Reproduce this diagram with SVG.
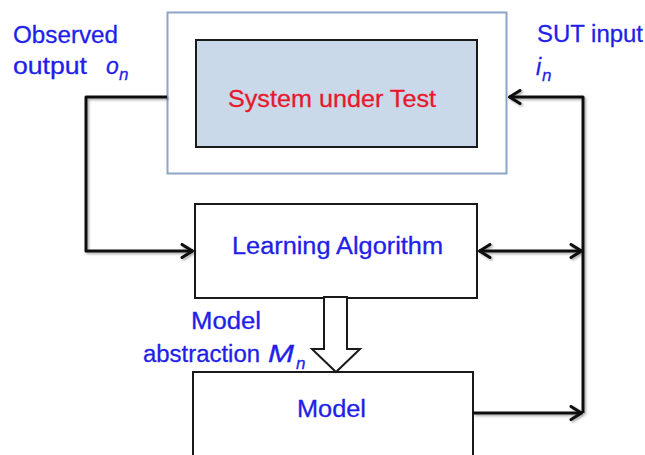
<svg xmlns="http://www.w3.org/2000/svg" width="645" height="455" viewBox="0 0 645 455">
  <style>
    .lbl { font-family: "Liberation Sans", Arial, sans-serif; fill: #1f1fe8; stroke: #1f1fe8; stroke-width: 0.3; font-size: 23px; }
    .it { font-style: italic; }
    .sub { font-size: 17px; }
    .box { fill: #ffffff; stroke: #1a1a1a; stroke-width: 2; }
    .wire { fill: none; stroke: #111111; stroke-width: 3; stroke-linejoin: round; }
  </style>
  <defs>
    <marker id="chev" viewBox="0 0 14 16" refX="13" refY="8" markerWidth="14" markerHeight="16" markerUnits="userSpaceOnUse" orient="auto-start-reverse">
      <path d="M2,1.5 L12.5,8 L2,14.5" fill="none" stroke="#111111" stroke-width="3" stroke-linecap="round" stroke-linejoin="round"/>
    </marker>
    <filter id="shadow" x="-10%" y="-10%" width="130%" height="130%">
      <feDropShadow dx="1.5" dy="1.5" stdDeviation="1.2" flood-color="#000000" flood-opacity="0.35"/>
    </filter>
  </defs>

  <rect width="645" height="455" fill="#ffffff"/>

  <!-- System under test -->
  <g id="sut">
    <rect x="167.5" y="12.5" width="339" height="161" fill="#ffffff" stroke="#8ea6c6" stroke-width="2"/>
    <rect x="196" y="40" width="281" height="107" fill="#c9d9ea" stroke="#1a1a1a" stroke-width="2"/>
    <text x="228" y="107" textLength="208" lengthAdjust="spacingAndGlyphs" font-family="'Liberation Sans', Arial, sans-serif" font-size="24" fill="#e8182c" stroke="#e8182c" stroke-width="0.3">System under Test</text>
  </g>

  <!-- Learning algorithm -->
  <g id="learner">
    <rect class="box" x="195" y="204" width="282" height="94"/>
    <text class="lbl" x="232" y="254" font-size="24" textLength="211" lengthAdjust="spacingAndGlyphs">Learning Algorithm</text>
  </g>

  <!-- Model -->
  <g id="model">
    <rect class="box" x="193" y="372" width="280" height="100"/>
    <text class="lbl" x="297" y="417" font-size="24" textLength="69" lengthAdjust="spacingAndGlyphs">Model</text>
  </g>

  <!-- Hollow abstraction arrow -->
  <g id="abstraction-arrow">
    <path d="M324,297 L347,297 L347,349 L360,349 L336,372 L312,349 L324,349 Z" fill="#ffffff" stroke="#1a1a1a" stroke-width="2" stroke-linejoin="miter"/>
  </g>

  <!-- Connectors -->
  <g id="connectors" filter="url(#shadow)">
    <path class="wire" d="M167,97 L86,97 L86,251 L193,251" marker-end="url(#chev)"/>
    <path class="wire" d="M583,413 L583,97 L509,97" marker-end="url(#chev)"/>
    <path class="wire" d="M479,251 L582,251" marker-start="url(#chev)" marker-end="url(#chev)"/>
    <path class="wire" d="M473,413 L582,413" marker-end="url(#chev)"/>
  </g>

  <!-- Labels -->
  <g id="labels">
    <text class="lbl" x="13" y="43" textLength="105" lengthAdjust="spacingAndGlyphs">Observed</text>
    <text class="lbl" x="13" y="74" textLength="74" lengthAdjust="spacingAndGlyphs">output</text>
    <text class="lbl it" x="106" y="74">o</text>
    <text class="lbl it sub" x="119" y="80">n</text>

    <text class="lbl" x="537" y="42" textLength="106" lengthAdjust="spacingAndGlyphs">SUT input</text>
    <text class="lbl it" x="536" y="75">i</text>
    <text class="lbl it sub" x="542" y="81">n</text>

    <text class="lbl" x="191" y="329" textLength="70" lengthAdjust="spacingAndGlyphs">Model</text>
    <text class="lbl" x="143" y="362" textLength="117" lengthAdjust="spacingAndGlyphs">abstraction</text>
    <text class="lbl it" x="268" y="362" font-size="24" textLength="26" lengthAdjust="spacingAndGlyphs">M</text>
    <text class="lbl it sub" x="296" y="369">n</text>
  </g>
</svg>
